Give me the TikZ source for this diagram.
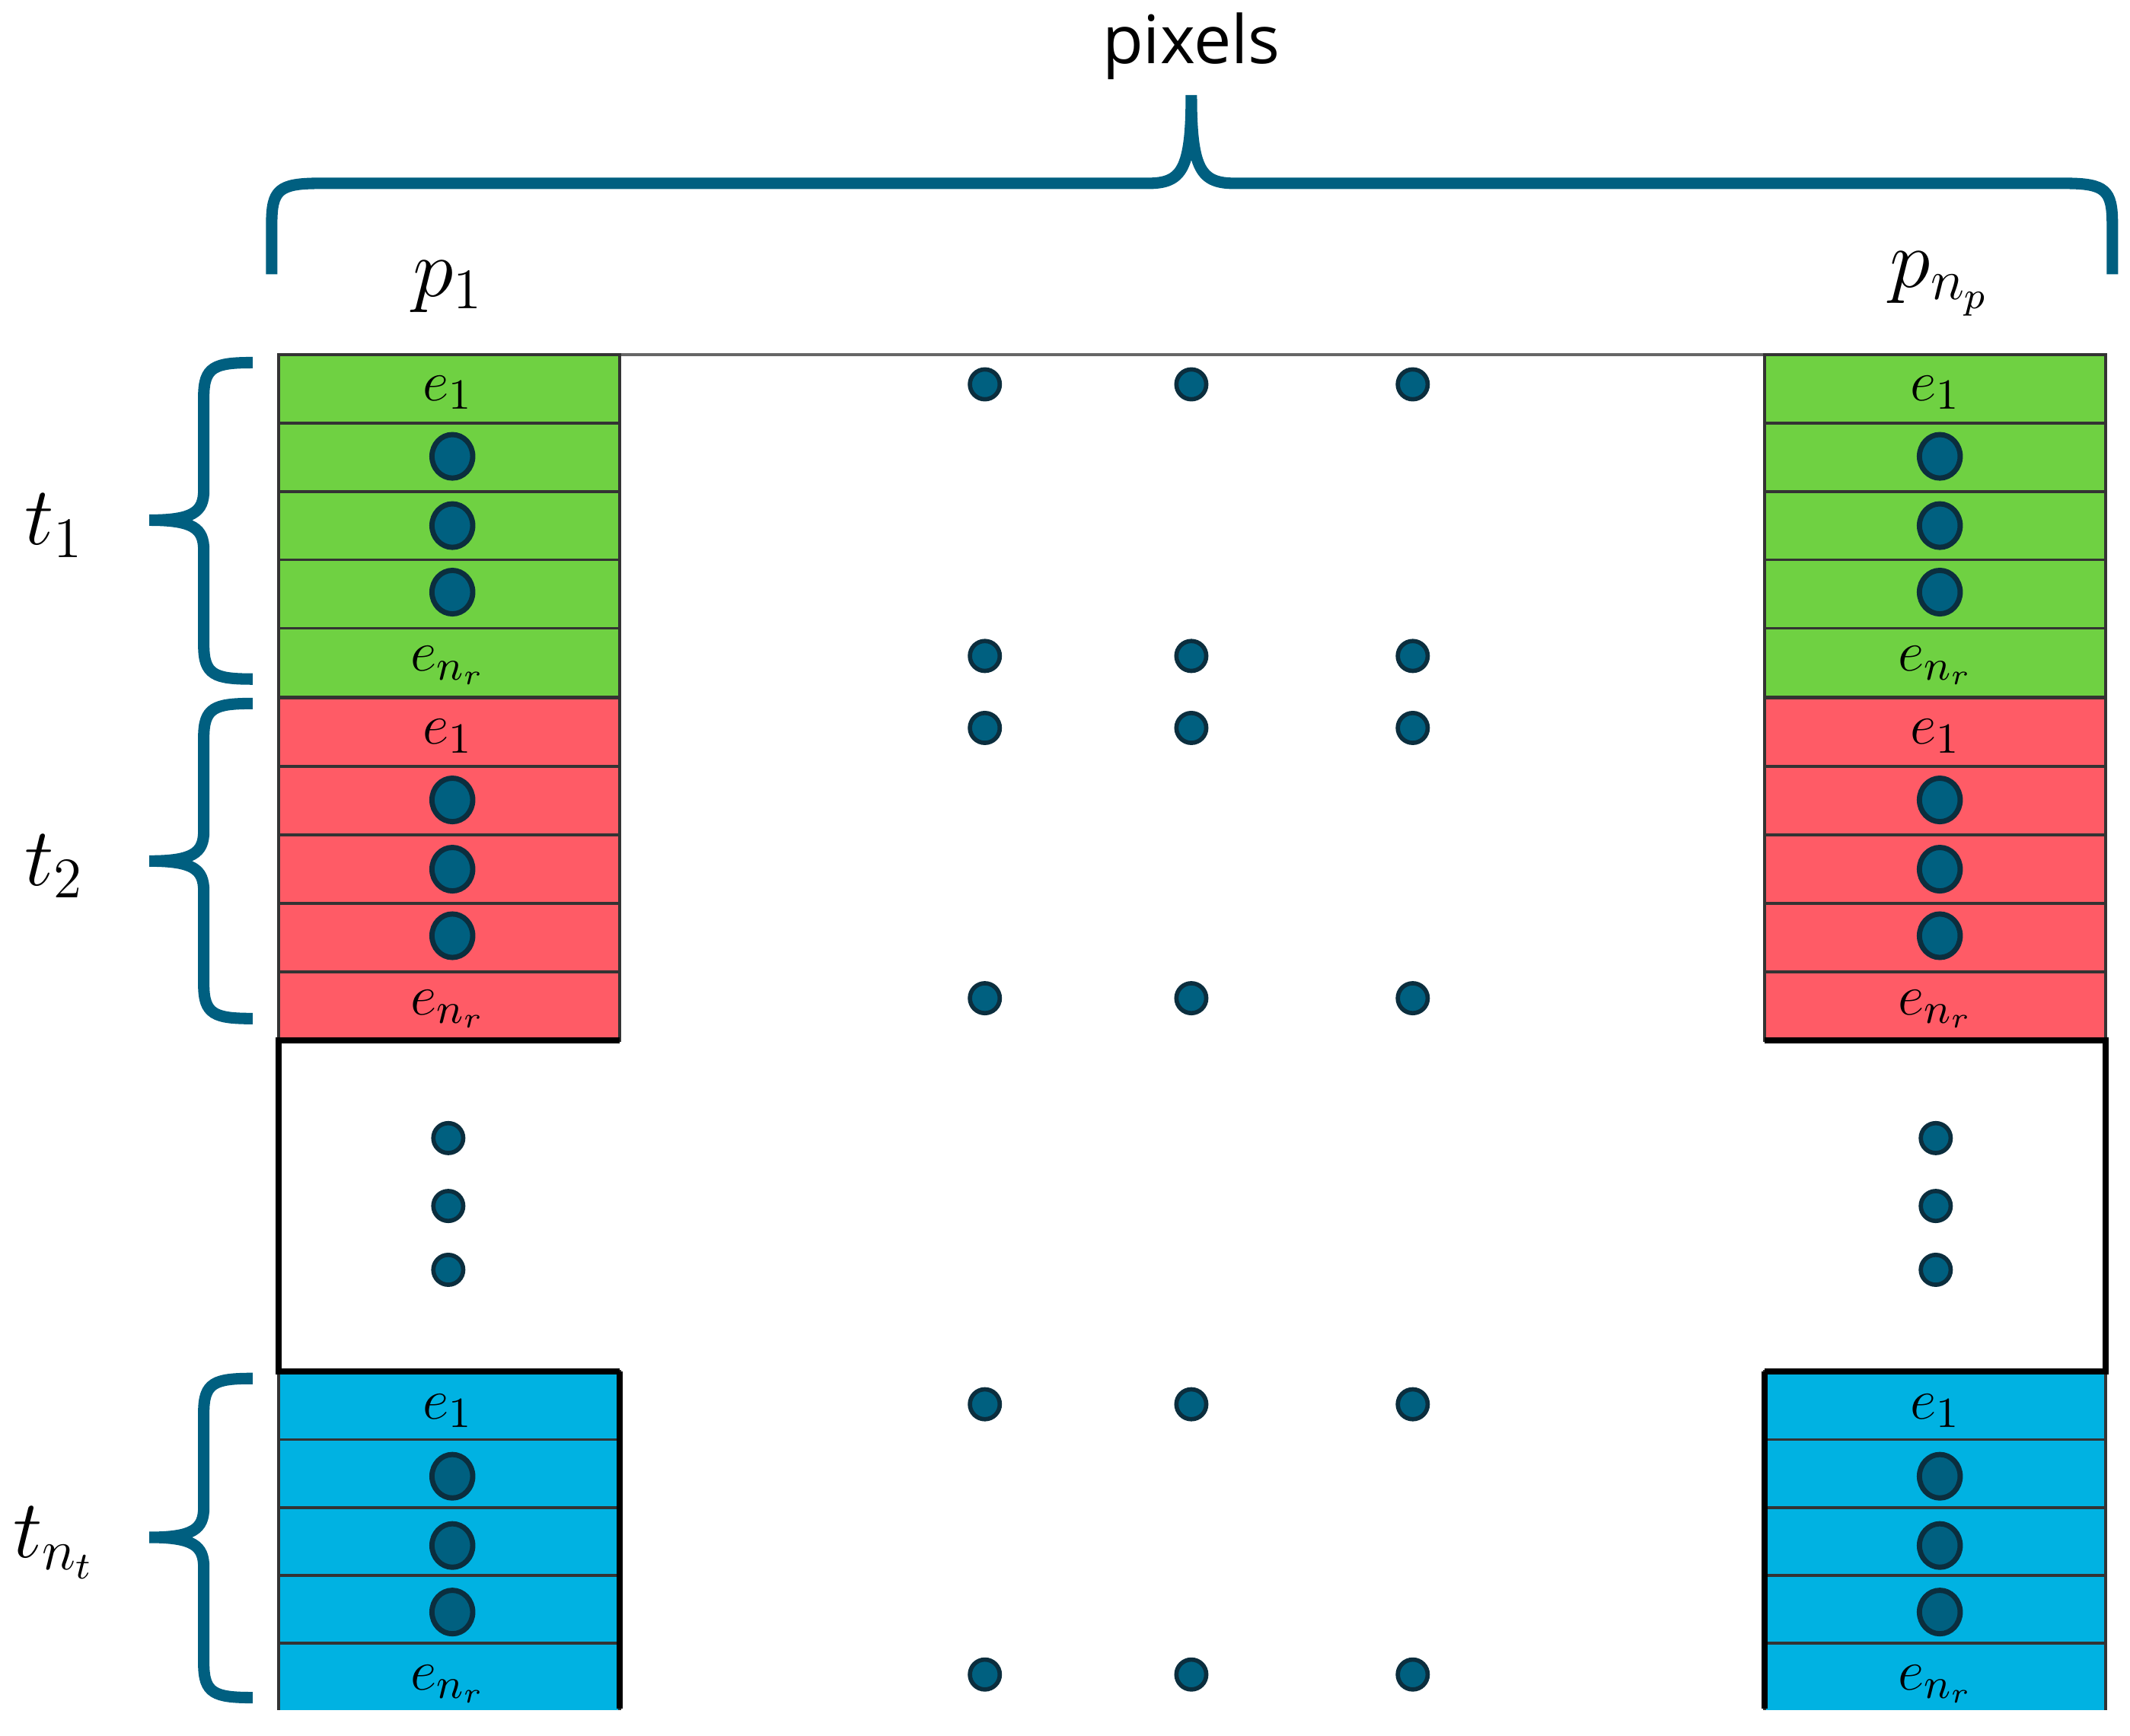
\documentclass[tikz,border=0pt]{standalone}
\usepackage{fontspec}
\newfontfamily\sansf{Open Sans}
\begin{document}
\begin{tikzpicture}[x=0.01cm,y=-0.01cm,
  cell/.style={draw=black!80,line width=0.6pt},
  brace/.style={draw=bracec,line width=2.4pt},
  sdot/.style={circle,fill=dotc,draw=dotb,line width=0.9pt,minimum size=0.22cm,inner sep=0pt},
  bdot/.style={ellipse,fill=dotc,draw=dotb,line width=1.1pt,minimum width=0.3cm,minimum height=0.32cm,inner sep=0pt},
  lbl/.style={font=\fontsize{13}{15}\selectfont}]
\definecolor{bracec}{HTML}{005F80}
\definecolor{dotc}{HTML}{006080}
\definecolor{dotb}{HTML}{0B2E3E}
\definecolor{gfill}{HTML}{6FD142}
\definecolor{rfill}{HTML}{FF5B66}
\definecolor{bfill}{HTML}{00B2E2}
\usetikzlibrary{shapes.geometric}
\useasboundingbox (0,0) rectangle (1568,1278);
\clip (0,0) rectangle (1568,1278);
% top thin line
\draw[black!60,line width=0.6pt] (456,261) -- (1299,261);
% columns
\foreach \x/\tx in {205/330,1299/1425}{
  \foreach \c/\y in {gfill/261,rfill/514}{
    \foreach \i in {0,...,4}{
      \filldraw[cell,fill=\c] (\x,\y+\i*50.4) rectangle ++(251,50.4);
    }
    \node[lbl] at (\tx,\y+28) {$e_1$};
    \node[lbl] at (\tx,\y+229) {$e_{n_r}$};
    \node[bdot] at (\tx+3,\y+75) {};
    \node[bdot] at (\tx+3,\y+126) {};
    \node[bdot] at (\tx+3,\y+175) {};
  }
  \foreach \i in {0,...,4}{
    \filldraw[cell,fill=bfill] (\x,1010+\i*50) rectangle ++(251,50);
  }
  \node[lbl] at (\tx,1039) {$e_1$};
  \node[lbl] at (\tx,1240) {$e_{n_r}$};
  \node[bdot] at (\tx+3,1087) {};
  \node[bdot] at (\tx+3,1138) {};
  \node[bdot] at (\tx+3,1187) {};
  \node[sdot] at (\tx,838) {};
  \node[sdot] at (\tx,888) {};
  \node[sdot] at (\tx,935) {};
}
\fill[white] (0,1259) rectangle (1568,1278);
\draw[black,line width=1.3pt] (456,766) -- (205,766) -- (205,1010) -- (456,1010);
\draw[black,line width=1.3pt] (1299,766) -- (1550,766) -- (1550,1010) -- (1299,1010);
\draw[black,line width=1.3pt] (456,1010) -- (456,1258);
\draw[black,line width=1.3pt] (1299,1010) -- (1299,1258);
% middle dots
\foreach \y in {283,483,536,735,1034,1233}{
  \node[sdot] at (725,\y) {};
  \node[sdot] at (877,\y) {};
  \node[sdot] at (1040,\y) {};
}
% top brace
\coordinate (tl) at (200,202);
\coordinate (tr) at (1555,202);
\coordinate (tt) at (877,70);
\draw[brace] (tl) -- (200,165) .. controls (200,140) and (205,135) .. (235,135) -- (845,135)
  .. controls (870,135) and (877,125) .. (tt)
  .. controls (877,125) and (884,135) .. (909,135) -- (1520,135)
  .. controls (1550,135) and (1555,140) .. (1555,165) -- (tr);
\node[font=\sansf\fontsize{14}{16}\selectfont] (pix) at (877,34) {pixels};
\node[font=\fontsize{17}{19}\selectfont] (p1) at (330,211) {$p_1$};
\node[font=\fontsize{17}{19}\selectfont] (pn) at (1428,209) {$p_{n_p}$};
% left braces
\foreach \a/\m/\b/\t in {267/383/500/t_1, 518/634/750/t_2, 1015/1132/1250/t_{n_t}}{
  \draw[brace] (186,\a) .. controls (158,\a) and (150,\a+3) .. (150,\a+25) -- (150,\m-22)
    .. controls (150,\m-6) and (142,\m) .. (110,\m)
    .. controls (142,\m) and (150,\m+6) .. (150,\m+22) -- (150,\b-25)
    .. controls (150,\b-3) and (158,\b) .. (186,\b);
  \node[font=\fontsize{17}{19}\selectfont] at (40,\m+4) {$\t$};
}
\end{tikzpicture}
\end{document}
